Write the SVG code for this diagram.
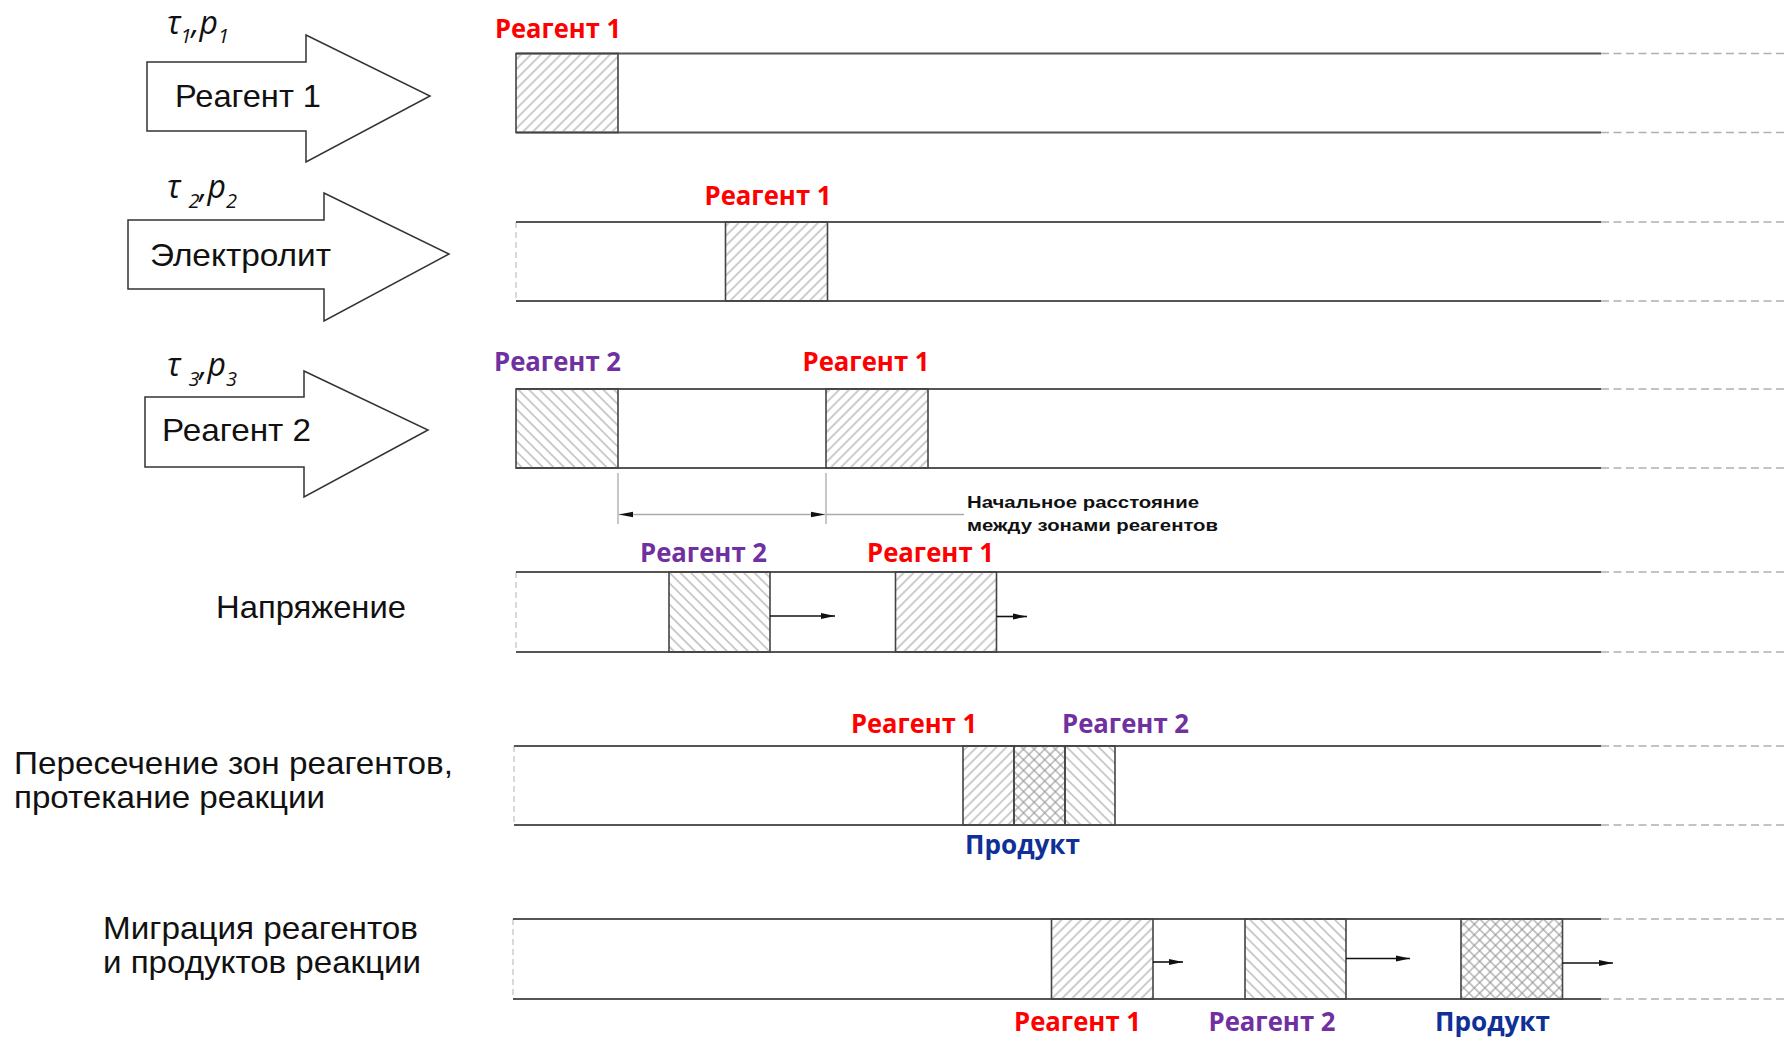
<svg xmlns="http://www.w3.org/2000/svg" width="1786" height="1038" viewBox="0 0 1786 1038">
<style>
.bg{fill:#fff}
.tube{stroke:#555;stroke-width:1.8;fill:none}
.ext{stroke:#b0b0b0;stroke-width:1.5;stroke-dasharray:8 4.5;fill:none}
.lend{stroke:#c0c0c0;stroke-width:1.2;stroke-dasharray:6 4;fill:none}
.box{stroke:#444;stroke-width:1.6}
.blk{fill:#fff;stroke:#333;stroke-width:1.5}
.big{font-family:"Liberation Sans",Arial,sans-serif;font-size:31.5px;fill:#111}
.lab{font-family:"Open Sans","Noto Sans",sans-serif;font-weight:700;font-size:26.5px}
.r{fill:#ff0000}
.p{fill:#7030a0}
.b{fill:#0f3096}
.tau{font-family:"Open Sans","Noto Sans",sans-serif;font-style:italic;font-size:32px;fill:#111}
.sub{font-size:20px}
.note{font-family:"Liberation Sans",Arial,sans-serif;font-weight:700;font-size:17px;fill:#111}
.dim{stroke:#aaa;stroke-width:1.3;fill:none}
.mv{stroke:#111;stroke-width:1.6;fill:none}
</style>
<defs>
<pattern id="h1" width="7" height="7" patternUnits="userSpaceOnUse" patternTransform="rotate(45)">
<line x1="1" y1="0" x2="1" y2="7" stroke="#9a9a9a" stroke-width="1"/>
</pattern>
<pattern id="h2" width="7.5" height="7.5" patternUnits="userSpaceOnUse" patternTransform="rotate(-45)">
<line x1="1" y1="0" x2="1" y2="7.5" stroke="#9a9a9a" stroke-width="1"/>
</pattern>
<pattern id="hx" width="7.5" height="7.5" patternUnits="userSpaceOnUse" patternTransform="rotate(45)">
<line x1="1" y1="0" x2="1" y2="7.5" stroke="#8f8f8f" stroke-width="1"/>
<line x1="0" y1="1" x2="7.5" y2="1" stroke="#8f8f8f" stroke-width="1"/>
</pattern>
<marker id="ah" markerUnits="userSpaceOnUse" markerWidth="14" markerHeight="8" refX="14" refY="4" orient="auto">
<path d="M0,1 L14,4 L0,7 Z" fill="#111"/>
</marker>
<marker id="dh" markerUnits="userSpaceOnUse" markerWidth="14" markerHeight="8" refX="14" refY="4" orient="auto-start-reverse">
<path d="M0,1.3 L14,4 L0,6.7 Z" fill="#111"/>
</marker>
</defs>
<rect class="bg" x="0" y="0" width="1786" height="1038"/>

<!-- Stage 1 -->
<g id="arrow-reagent1">
<path class="blk" d="M147,62 H306 V35 L430,96 L306,162 V131 H147 Z"/>
<text class="big" x="175" y="107" textLength="146" lengthAdjust="spacingAndGlyphs">Реагент 1</text>
</g>
<g id="tau1">
<text class="tau" x="167" y="34">τ<tspan class="sub" dy="9">1</tspan><tspan dy="-9">,p</tspan><tspan class="sub" dy="9">1</tspan></text>
</g>
<g id="tube1">
<line class="tube" x1="516" y1="53.5" x2="1601" y2="53.5"/>
<line class="tube" x1="516" y1="132.5" x2="1601" y2="132.5"/>
<line class="ext" x1="1601" y1="53.5" x2="1786" y2="53.5"/>
<line class="ext" x1="1601" y1="132.5" x2="1786" y2="132.5"/>
<rect class="box" x="516" y="53.5" width="102" height="79" fill="url(#h1)"/>
<text class="lab r" x="495" y="37.5" textLength="126" lengthAdjust="spacingAndGlyphs">Реагент 1</text>
</g>

<!-- Stage 2 -->
<g id="arrow-electrolyte">
<path class="blk" d="M128,220 H324 V193 L449,254 L324,321 V289 H128 Z"/>
<text class="big" x="150" y="266" textLength="181" lengthAdjust="spacingAndGlyphs">Электролит</text>
</g>
<g id="tau2">
<text class="tau" x="167" y="198">τ<tspan class="sub" dx="8" dy="10">2</tspan><tspan dy="-10">,p</tspan><tspan class="sub" dy="10">2</tspan></text>
</g>
<g id="tube2">
<line class="lend" x1="516" y1="222" x2="516" y2="301"/>
<line class="tube" x1="516" y1="222" x2="1601" y2="222"/>
<line class="tube" x1="516" y1="301" x2="1601" y2="301"/>
<line class="ext" x1="1601" y1="222" x2="1786" y2="222"/>
<line class="ext" x1="1601" y1="301" x2="1786" y2="301"/>
<rect class="box" x="725.5" y="222" width="102" height="79" fill="url(#h1)"/>
<text class="lab r" x="704.5" y="205" textLength="127" lengthAdjust="spacingAndGlyphs">Реагент 1</text>
</g>

<!-- Stage 3 -->
<g id="arrow-reagent2">
<path class="blk" d="M145,397 H304 V371 L428,430 L304,497 V467 H145 Z"/>
<text class="big" x="162" y="441" textLength="149" lengthAdjust="spacingAndGlyphs">Реагент 2</text>
</g>
<g id="tau3">
<text class="tau" x="167" y="376">τ<tspan class="sub" dx="8" dy="10">3</tspan><tspan dy="-10">,p</tspan><tspan class="sub" dy="10">3</tspan></text>
</g>
<g id="tube3">
<line class="tube" x1="516" y1="389" x2="1601" y2="389"/>
<line class="tube" x1="516" y1="468" x2="1601" y2="468"/>
<line class="ext" x1="1601" y1="389" x2="1786" y2="389"/>
<line class="ext" x1="1601" y1="468" x2="1786" y2="468"/>
<rect class="box" x="516" y="389" width="102" height="79" fill="url(#h2)"/>
<rect class="box" x="826" y="389" width="102" height="79" fill="url(#h1)"/>
<text class="lab p" x="494" y="371" textLength="127" lengthAdjust="spacingAndGlyphs">Реагент 2</text>
<text class="lab r" x="802.5" y="371" textLength="127" lengthAdjust="spacingAndGlyphs">Реагент 1</text>
</g>
<g id="distance-note">
<text class="note" x="967" y="508" textLength="232" lengthAdjust="spacingAndGlyphs">Начальное расстояние</text>
<text class="note" x="967" y="531" textLength="251" lengthAdjust="spacingAndGlyphs">между зонами реагентов</text>
</g>

<!-- Stage 4 -->
<g id="label-voltage">
<text class="big" x="216" y="618" textLength="190" lengthAdjust="spacingAndGlyphs">Напряжение</text>
</g>
<g id="tube4">
<line class="lend" x1="516" y1="572" x2="516" y2="652"/>
<line class="tube" x1="516" y1="572" x2="1601" y2="572"/>
<line class="tube" x1="516" y1="652" x2="1601" y2="652"/>
<line class="ext" x1="1601" y1="572" x2="1786" y2="572"/>
<line class="ext" x1="1601" y1="652" x2="1786" y2="652"/>
<rect class="box" x="669" y="572" width="101" height="80" fill="url(#h2)"/>
<rect class="box" x="895.5" y="572" width="101" height="80" fill="url(#h1)"/>
<text class="lab p" x="640" y="562" textLength="127" lengthAdjust="spacingAndGlyphs">Реагент 2</text>
<text class="lab r" x="867" y="562" textLength="127" lengthAdjust="spacingAndGlyphs">Реагент 1</text>
</g>

<!-- Stage 5 -->
<g id="label-intersection">
<text class="big" x="14" y="774" textLength="439" lengthAdjust="spacingAndGlyphs">Пересечение зон реагентов,</text>
<text class="big" x="14" y="808" textLength="311" lengthAdjust="spacingAndGlyphs">протекание реакции</text>
</g>
<g id="tube5">
<line class="lend" x1="514" y1="746" x2="514" y2="825"/>
<line class="tube" x1="514" y1="746" x2="1601" y2="746"/>
<line class="tube" x1="514" y1="825" x2="1601" y2="825"/>
<line class="ext" x1="1601" y1="746" x2="1786" y2="746"/>
<line class="ext" x1="1601" y1="825" x2="1786" y2="825"/>
<rect class="box" x="963" y="746" width="51" height="79" fill="url(#h1)"/>
<rect class="box" x="1014" y="746" width="51" height="79" fill="url(#hx)"/>
<rect class="box" x="1065" y="746" width="50" height="79" fill="url(#h2)"/>
<text class="lab r" x="851" y="733" textLength="126" lengthAdjust="spacingAndGlyphs">Реагент 1</text>
<text class="lab p" x="1062" y="733" textLength="127" lengthAdjust="spacingAndGlyphs">Реагент 2</text>
<text class="lab b" x="965" y="854" textLength="115" lengthAdjust="spacingAndGlyphs">Продукт</text>
</g>

<!-- Stage 6 -->
<g id="label-migration">
<text class="big" x="103" y="939" textLength="315" lengthAdjust="spacingAndGlyphs">Миграция реагентов</text>
<text class="big" x="103" y="973" textLength="318" lengthAdjust="spacingAndGlyphs">и продуктов реакции</text>
</g>
<g id="tube6">
<line class="lend" x1="513" y1="919" x2="513" y2="999"/>
<line class="tube" x1="513" y1="919" x2="1601" y2="919"/>
<line class="tube" x1="513" y1="999" x2="1601" y2="999"/>
<line class="ext" x1="1601" y1="919" x2="1786" y2="919"/>
<line class="ext" x1="1601" y1="999" x2="1786" y2="999"/>
<rect class="box" x="1051.5" y="919" width="101.5" height="80" fill="url(#h1)"/>
<rect class="box" x="1245" y="919" width="101" height="80" fill="url(#h2)"/>
<rect class="box" x="1461" y="919" width="101.5" height="80" fill="url(#hx)"/>
<text class="lab r" x="1014" y="1031" textLength="127" lengthAdjust="spacingAndGlyphs">Реагент 1</text>
<text class="lab p" x="1208.5" y="1031" textLength="127" lengthAdjust="spacingAndGlyphs">Реагент 2</text>
<text class="lab b" x="1435" y="1031" textLength="115" lengthAdjust="spacingAndGlyphs">Продукт</text>
</g>

<g id="connectors">
<line class="dim" x1="618" y1="473" x2="618" y2="524"/>
<line class="dim" x1="826" y1="473" x2="826" y2="524"/>
<line class="dim" x1="826" y1="514.5" x2="964" y2="514.5"/>
<line class="dim" x1="619" y1="514.5" x2="825" y2="514.5" marker-start="url(#dh)" marker-end="url(#dh)"/>
<line class="mv" x1="770" y1="616" x2="835" y2="616" marker-end="url(#ah)"/>
<line class="mv" x1="996.5" y1="616.5" x2="1027" y2="616.5" marker-end="url(#ah)"/>
<line class="mv" x1="1153" y1="962" x2="1183" y2="962" marker-end="url(#ah)"/>
<line class="mv" x1="1346" y1="958.5" x2="1410" y2="958.5" marker-end="url(#ah)"/>
<line class="mv" x1="1562.5" y1="963" x2="1613" y2="963" marker-end="url(#ah)"/>
</g>
</svg>
